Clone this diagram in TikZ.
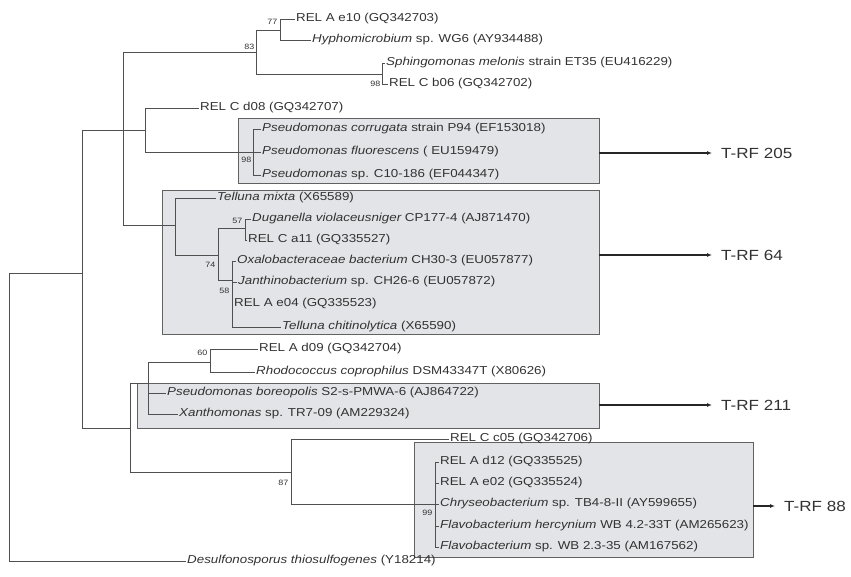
\documentclass[tikz,border=0pt]{standalone}
\usepackage{fontspec}
\setmainfont{Liberation Sans}[FakeStretch=1.16]
\usetikzlibrary{arrows.meta}
\definecolor{boxgray}{RGB}{226,228,231}
\definecolor{linegray}{RGB}{80,80,80}
\definecolor{txtgray}{RGB}{50,50,50}
\tikzset{
  branch/.style={draw=linegray, line width=0.8pt},
  leaf/.style={anchor=west, inner sep=1pt, font=\fontsize{11.5}{13}\selectfont, text=txtgray},
  boot/.style={anchor=east, inner sep=0.5pt, font=\fontsize{7.7}{8}\selectfont, text=txtgray},
  cluster/.style={draw=linegray!90, fill=boxgray, line width=0.8pt, anchor=north west, outer sep=0pt},
  trf/.style={anchor=west, inner xsep=9pt, font=\fontsize{14.7}{16}\selectfont, text=txtgray},
  link/.style={-{Latex[length=5pt,width=4pt]}, line width=1.4pt, draw=black!85},
}
\begin{document}
\begin{tikzpicture}[x=1pt,y=-1pt]
  \useasboundingbox (0,0) rectangle (851,576);

  % shaded clusters
  \node[cluster, minimum width=361pt, minimum height=65pt] (box205) at (238,118) {};
  \node[cluster, minimum width=437pt, minimum height=144pt] (box64) at (162,190) {};
  \node[cluster, minimum width=462pt, minimum height=45pt] (box211) at (137,383) {};
  \node[cluster, minimum width=339pt, minimum height=115pt] (box88) at (414,442) {};

  % inner nodes of the tree
  \coordinate (r0) at (9,273);
  \coordinate (a) at (82,273);
  \coordinate (b) at (123,130);
  \coordinate (n83) at (256,52);
  \coordinate (n77) at (280,30);
  \coordinate (h98) at (382,74);
  \coordinate (e) at (145,130);
  \coordinate (i98) at (253,152);
  \coordinate (f) at (175,225);
  \coordinate (j74) at (218,255);
  \coordinate (k57) at (245,228);
  \coordinate (l58) at (232,280);
  \coordinate (c) at (130,428);
  \coordinate (m) at (148,383);
  \coordinate (o60) at (210,362);
  \coordinate (n87) at (291,472);
  \coordinate (p99) at (435,504);

  % leaves
  \node[leaf] (e10) at (295,19) {REL A e10 (GQ342703)};
  \node[leaf] (hyph) at (311,40) {\itshape Hyphomicrobium \upshape sp. WG6 (AY934488)};
  \node[leaf] (sphm) at (385,63) {\itshape Sphingomonas melonis \upshape strain ET35 (EU416229)};
  \node[leaf] (b06) at (388,84) {REL C b06 (GQ342702)};
  \node[leaf] (d08) at (199,108) {REL C d08 (GQ342707)};
  \node[leaf] (pcor) at (261,129) {\itshape Pseudomonas corrugata \upshape strain P94 (EF153018)};
  \node[leaf] (pflu) at (261,152) {\itshape Pseudomonas fluorescens \upshape ( EU159479)};
  \node[leaf] (psp) at (261,175) {\itshape Pseudomonas \upshape sp. C10-186 (EF044347)};
  \node[leaf] (tmix) at (216,198) {\itshape Telluna mixta \upshape (X65589)};
  \node[leaf] (dug) at (251,219) {\itshape Duganella violaceusniger \upshape CP177-4 (AJ871470)};
  \node[leaf] (a11) at (247,240) {REL C a11 (GQ335527)};
  \node[leaf] (oxa) at (236,261) {\itshape Oxalobacteraceae bacterium \upshape CH30-3 (EU057877)};
  \node[leaf] (jan) at (237,282) {\itshape Janthinobacterium \upshape sp. CH26-6 (EU057872)};
  \node[leaf] (e04) at (233,304) {REL A e04 (GQ335523)};
  \node[leaf] (tchi) at (281,327) {\itshape Telluna chitinolytica \upshape (X65590)};
  \node[leaf] (d09) at (258,349) {REL A d09 (GQ342704)};
  \node[leaf] (rho) at (255,372) {\itshape Rhodococcus coprophilus \upshape DSM43347T (X80626)};
  \node[leaf] (pbor) at (166,393) {\itshape Pseudomonas boreopolis \upshape S2-s-PMWA-6 (AJ864722)};
  \node[leaf] (xan) at (178,414) {\itshape Xanthomonas \upshape sp. TR7-09 (AM229324)};
  \node[leaf] (c05) at (449,439) {REL C c05 (GQ342706)};
  \node[leaf] (d12) at (439,462) {REL A d12 (GQ335525)};
  \node[leaf] (e02) at (439,483) {REL A e02 (GQ335524)};
  \node[leaf] (chr) at (439,504) {\itshape Chryseobacterium \upshape sp. TB4-8-II (AY599655)};
  \node[leaf] (fher) at (439,526) {\itshape Flavobacterium hercynium \upshape WB 4.2-33T (AM265623)};
  \node[leaf] (fsp) at (439,547) {\itshape Flavobacterium \upshape sp. WB 2.3-35 (AM167562)};
  \node[leaf] (des) at (186,561) {\itshape Desulfonosporus thiosulfogenes \upshape (Y18214)};

  % branches
  \foreach \p/\c in {r0/a, r0/des.west, a/b, a/c, b/n83, b/e, b/f,
      n83/n77, n83/h98, n77/e10.west, n77/hyph.west, h98/sphm.west, h98/b06.west,
      e/d08.west, e/i98, i98/pcor.west, i98/pflu.west, i98/psp.west,
      f/tmix.west, f/j74, j74/k57, j74/l58, k57/dug.west, k57/a11.west,
      l58/oxa.west, l58/jan.west, l58/e04.west, l58/tchi.west,
      c/m, c/n87, m/o60, m/pbor.west, m/xan.west, o60/d09.west, o60/rho.west,
      n87/c05.west, n87/p99, p99/d12.west, p99/e02.west, p99/chr.west,
      p99/fher.west, p99/fsp.west}
    \draw[branch] (\p) |- (\c);

  % bootstrap values
  \node[boot] (bs77) at (278,22) {77};
  \node[boot] (bs83) at (255,47) {83};
  \node[boot] (bs98a) at (381,84) {98};
  \node[boot] (bs98b) at (252,160) {98};
  \node[boot] (bs57) at (243,221) {57};
  \node[boot] (bs74) at (216,265) {74};
  \node[boot] (bs58) at (230,291) {58};
  \node[boot] (bs60) at (208,353) {60};
  \node[boot] (bs87) at (289,483) {87};
  \node[boot] (bs99) at (433,513) {99};

  % T-RF labels
  \node[trf] (t205) at (712,153) {T-RF 205};
  \node[trf] (t64) at (712,255) {T-RF 64};
  \node[trf] (t211) at (712,405) {T-RF 211};
  \node[trf] (t88) at (775,506) {T-RF 88};
  \draw[link] (box205.east |- t205) -- (t205.west);
  \draw[link] (box64.east |- t64) -- (t64.west);
  \draw[link] (box211.east |- t211) -- (t211.west);
  \draw[link] (box88.east |- t88) -- (t88.west);
\end{tikzpicture}
\end{document}
